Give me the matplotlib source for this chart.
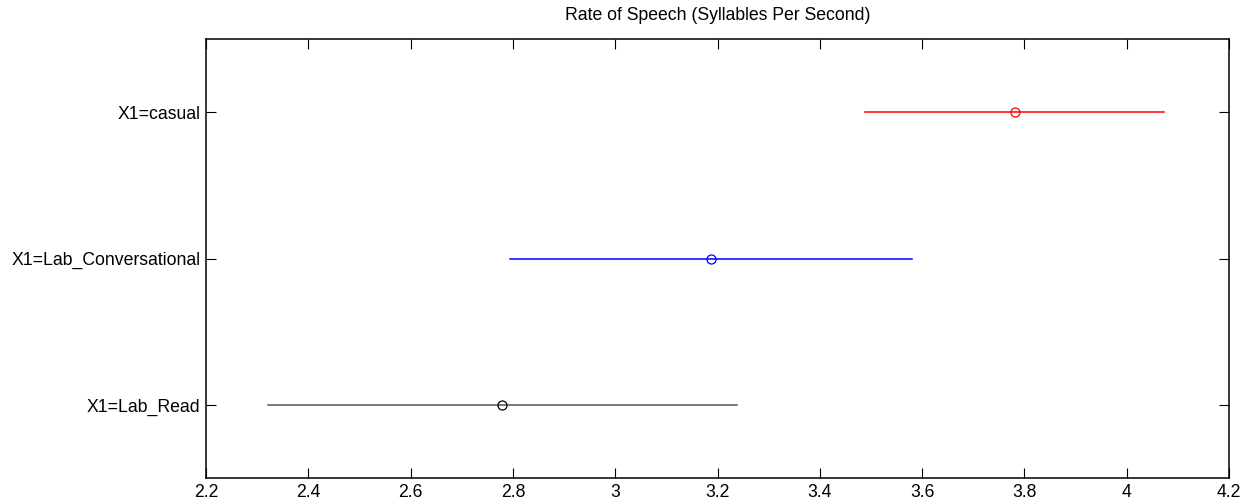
import numpy as np
from matplotlib import pyplot as plt

plt.rcParams['font.family'] = ['Liberation Sans', 'DejaVu Sans']

groups = ["X1=Lab_Read", "X1=Lab_Conversational", "X1=casual"]
means = [2.779, 3.188, 3.781]
lower = [2.321, 2.795, 3.489]
upper = [3.239, 3.581, 4.073]
line_colors = ["#555555", "blue", "red"]
marker_colors = ["black", "blue", "red"]
xticks = [2.2, 2.4, 2.6, 2.8, 3, 3.2, 3.4, 3.6, 3.8, 4, 4.2]
xticklabels = ["2.2", "2.4", "2.6", "2.8", "3", "3.2", "3.4", "3.6", "3.8", "4", "4.2"]

fig = plt.figure(figsize=(12.51, 5), dpi=100)
ax = fig.add_axes([0.1647, 0.044, 0.8177, 0.878])

ypos = np.arange(1, len(groups) + 1)
for i in range(len(groups)):
    ax.plot([lower[i], upper[i]], [ypos[i], ypos[i]], color=line_colors[i], linewidth=1.1)
    ax.plot(means[i], ypos[i], marker='o', markersize=6.5, fillstyle='none',
            markeredgecolor=marker_colors[i], markeredgewidth=0.9, linestyle='None')

ax.set_xlim(2.2, 4.2)
ax.set_ylim(0.5, 3.5)
ax.set_xticks(xticks)
ax.set_xticklabels(xticklabels)
ax.set_yticks(ypos)
ax.set_yticklabels(groups)
ax.tick_params(direction='in', length=7, width=0.8, top=True, right=True, labelsize=12.7, pad=4)
for s in ax.spines.values():
    s.set_linewidth(1.1)
ax.set_title("Rate of Speech (Syllables Per Second)", fontsize=12.7, pad=14)

plt.savefig("out.png", dpi=100)
